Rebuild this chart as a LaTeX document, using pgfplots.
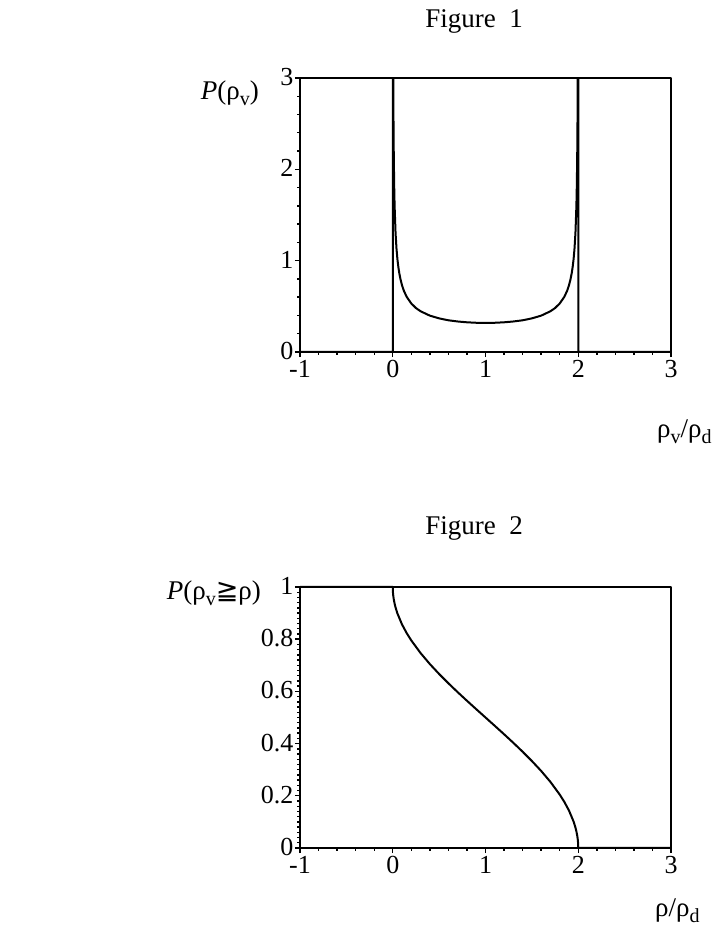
\documentclass[border=0pt]{standalone}
\usepackage{fontspec}
\setmainfont{Liberation Serif}
\newfontfamily\symf{DejaVu Sans}
\usepackage{pgfplots}
\pgfplotsset{compat=1.18}

\newcommand\sub[1]{\raisebox{-0.45ex}{\fontsize{10}{10}\selectfont #1}}

\pgfplotsset{
  fig/.style={
    scale only axis, width=185.5pt, anchor=south west,
    xmin=-1, xmax=3, xtick={-1,0,1,2,3}, xticklabels={-1,0,1,2,3},
    minor x tick num=4,
    axis line style={line width=0.9pt}, tick style={black, line width=0.7pt},
    tick align=outside, xtick pos=bottom, ytick pos=left,
    major tick length=2.6pt, minor tick length=1.4pt,
    xticklabel style={font=\fontsize{13}{13}\selectfont, inner sep=0.5pt, yshift=-1pt},
    yticklabel style={font=\fontsize{13}{13}\selectfont, inner sep=0.5pt, yshift=0.5pt},
    clip=false,
  },
}

\begin{document}
\begin{tikzpicture}[line join=round]
  \path (0,0) rectangle (354.5pt,468pt);

  % Figure 1
  \node[anchor=base, font=\fontsize{13.5}{15}\selectfont] at (237pt,454pt) {Figure~~1};
  \begin{axis}[fig, at={(150pt,292pt)}, height=137pt,
      ymin=0, ymax=3, ytick={0,1,2,3}, yticklabels={0,1,2,3}, minor y tick num=4]
    \addplot[black, line width=1pt] coordinates {
      (-1,0) (0,0) (0,3) (0.0057,2.985) (0.0075,2.604) (0.01,2.256) (0.015,1.845)
      (0.02,1.600) (0.03,1.309) (0.04,1.137) (0.05,1.019) (0.06,0.933) (0.07,0.866)
      (0.085,0.789) (0.1,0.730) (0.12,0.670) (0.15,0.604) (0.2,0.531) (0.25,0.481)
      (0.3,0.446) (0.4,0.398) (0.5,0.368) (0.6,0.347) (0.7,0.334) (0.8,0.325)
      (0.9,0.320) (1,0.318) (1.1,0.320) (1.2,0.325) (1.3,0.334) (1.4,0.347)
      (1.5,0.368) (1.6,0.398) (1.7,0.446) (1.75,0.481) (1.8,0.531) (1.85,0.604)
      (1.88,0.670) (1.9,0.730) (1.915,0.789) (1.93,0.866) (1.94,0.933) (1.95,1.019)
      (1.96,1.137) (1.97,1.309) (1.98,1.600) (1.985,1.845) (1.99,2.256)
      (1.9925,2.604) (1.9943,2.985) (2,3) (2,0) (3,0)
    };
  \end{axis}
  \node[anchor=east, font=\fontsize{13.5}{15}\selectfont] at (133pt,421.5pt) {\textit{P}(ρ\sub{v})};
  \node[anchor=base west, font=\fontsize{13.5}{15}\selectfont] at (325pt,249pt) {ρ\sub{v}/ρ\sub{d}};

  % Figure 2
  \node[anchor=base, font=\fontsize{13.5}{15}\selectfont] at (237pt,200.5pt) {Figure~~2};
  \begin{axis}[fig, at={(150pt,44pt)}, height=130.5pt,
      ymin=0, ymax=1, ytick={0,0.2,0.4,0.6,0.8,1},
      yticklabels={0,0.2,0.4,0.6,0.8,1}, minor y tick num=9]
    \addplot[black, line width=1pt] coordinates {
      (-1,1) (0,1) (0.002,0.9799) (0.005,0.9682) (0.01,0.9549) (0.02,0.9362)
      (0.03,0.9218) (0.05,0.8989) (0.1,0.8564) (0.15,0.8234) (0.2,0.7952)
      (0.3,0.7468) (0.4,0.7048) (0.5,0.6667) (0.6,0.6310) (0.7,0.5970)
      (0.8,0.5641) (0.9,0.5319) (1,0.5) (1.1,0.4681) (1.2,0.4359) (1.3,0.4030)
      (1.4,0.3690) (1.5,0.3333) (1.6,0.2952) (1.7,0.2532) (1.8,0.2048)
      (1.85,0.1766) (1.9,0.1436) (1.95,0.1011) (1.97,0.0782) (1.98,0.0638)
      (1.99,0.0451) (1.995,0.0318) (1.998,0.0201) (2,0) (3,0)
    };
  \end{axis}
  \node[anchor=east, font=\fontsize{13.5}{15}\selectfont] at (134pt,171.5pt) {\textit{P}(ρ\sub{v}{\symf ≧}ρ)};
  \node[anchor=base west, font=\fontsize{13.5}{15}\selectfont] at (324pt,9.5pt) {ρ/ρ\sub{d}};
\end{tikzpicture}
\end{document}
